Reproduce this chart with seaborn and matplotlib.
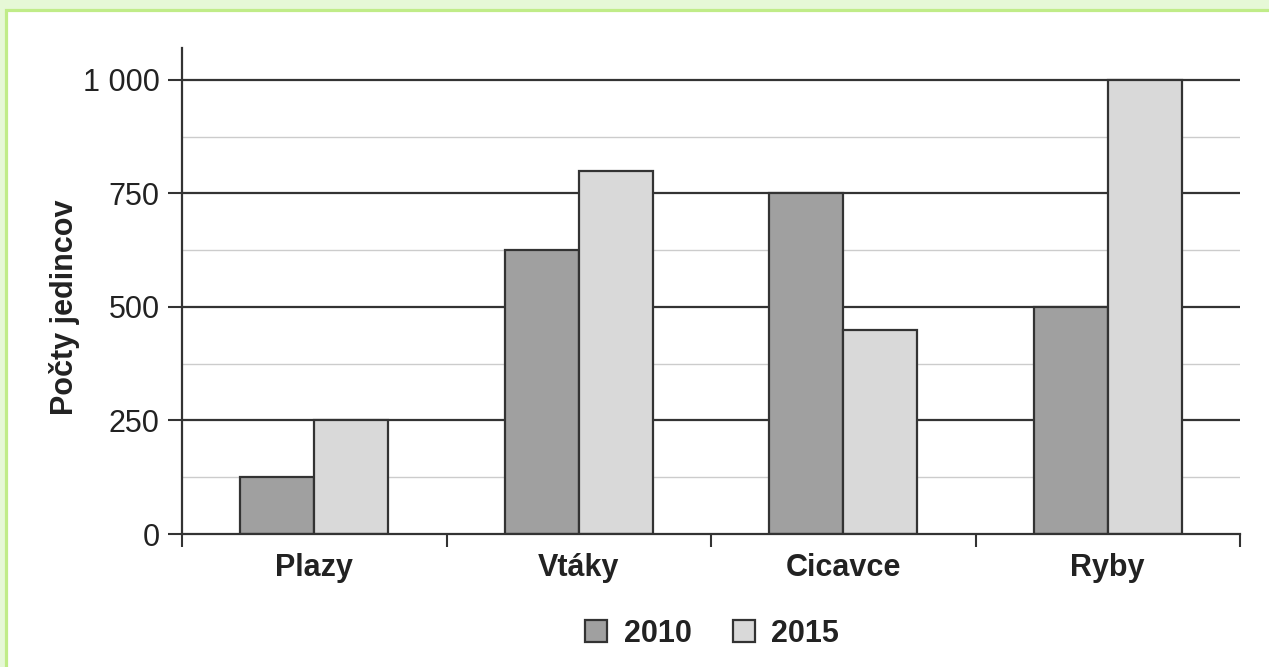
import pandas as pd
import matplotlib
matplotlib.use("Agg")
import matplotlib.pyplot as plt
from matplotlib.patches import Rectangle
from matplotlib.lines import Line2D
from matplotlib.ticker import MultipleLocator, FuncFormatter
import seaborn as sns

# data
categories = ["Plazy", "Vtáky", "Cicavce", "Ryby"]
years = ["2010", "2015"]
values_2010 = [125, 625, 750, 500]
values_2015 = [250, 800, 450, 1000]
yticks = [0, 250, 500, 750, 1000]

df = pd.DataFrame({
    "Skupina": categories * 2,
    "Rok": [years[0]] * 4 + [years[1]] * 4,
    "Pocet": values_2010 + values_2015,
})

colors = {"2010": "#a0a0a0", "2015": "#d9d9d9"}
dark = "#333333"

sns.set_style("white")
plt.rcParams['font.family'] = ['Liberation Sans', 'DejaVu Sans']

W, H = 1269, 667
fig = plt.figure(figsize=(W / 100, H / 100), dpi=100)

# green frame (left and top edge only are visible)
fig.patches.append(Rectangle((0, 0), 1, 1, transform=fig.transFigure,
                             facecolor="#e6f8d6", edgecolor="none", zorder=-3))
fig.patches.append(Rectangle((6.5 / W, -0.1), 1.2, 1.1 - 9.5 / H, transform=fig.transFigure,
                             facecolor="white", edgecolor="#c0ec88", linewidth=2.3, zorder=-2))

ax = fig.add_axes([182 / W, 1 - 534 / H, (1240 - 182) / W, (534 - 48) / H])
ax.set_facecolor("none")

sns.barplot(data=df, x="Skupina", y="Pocet", hue="Rok", palette=colors,
            width=0.56, gap=0, edgecolor=dark, linewidth=1.6, saturation=1,
            legend=False, ax=ax, zorder=3)

ax.set_xlim(-0.5, 3.5)
ax.set_ylim(0, 1070)

# gridlines: dark at 250, light at 125
for v in range(125, 1001, 250):
    ax.axhline(v, color="#cccccc", linewidth=1.0, zorder=1)
for v in yticks[1:]:
    ax.axhline(v, color=dark, linewidth=1.6, zorder=2)

ax.set_yticks(yticks)
ax.yaxis.set_major_formatter(FuncFormatter(lambda v, p: f"{int(v):,}".replace(",", " ")))
ax.tick_params(axis="y", direction="out", length=10, width=1.5, color=dark,
               labelsize=22, labelcolor="#222222", pad=6, left=True)

ax.set_xticks(range(len(categories)))
ax.set_xticklabels(categories, fontweight="bold", fontsize=22, color="#222222")
ax.tick_params(axis="x", which="major", length=0, pad=14)
ax.xaxis.set_minor_locator(MultipleLocator(1, offset=0.5))
ax.tick_params(axis="x", which="minor", direction="out", length=9.5, width=1.5,
               color=dark, bottom=True)

for side in ["top", "right"]:
    ax.spines[side].set_visible(False)
for side in ["left", "bottom"]:
    ax.spines[side].set_color(dark)
    ax.spines[side].set_linewidth(1.6)
    ax.spines[side].set_zorder(4)

ax.set_xlabel("")
ax.set_ylabel("Počty jedincov", fontweight="bold", fontsize=22, color="#222222")
ax.yaxis.set_label_coords(-0.096, 0.467)

handles = [Line2D([], [], marker="s", linestyle="none", markersize=16,
                  markerfacecolor=colors[y], markeredgecolor=dark, markeredgewidth=1.6)
           for y in years]
leg = fig.legend(handles, years, loc="center", bbox_to_anchor=(710 / W, 1 - 634 / H),
                 ncol=2, frameon=False, handlelength=1.0, handletextpad=0.4,
                 columnspacing=1.2, prop={"weight": "bold", "size": 22})
for t in leg.get_texts():
    t.set_color("#222222")

fig.savefig("out.png", dpi=100)
